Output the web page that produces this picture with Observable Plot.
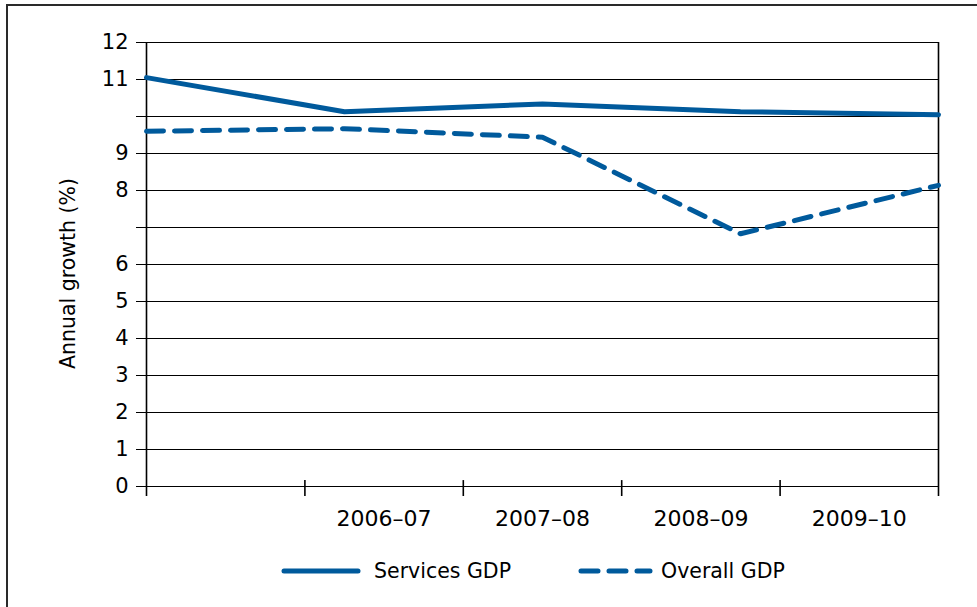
<!DOCTYPE html>
<html>
<head>
<meta charset="utf-8">
<script src="https://cdn.jsdelivr.net/npm/d3@7"></script>
<script src="https://cdn.jsdelivr.net/npm/@observablehq/plot@0.6"></script>
<style>
  html, body { margin: 0; padding: 0; background: #fff; overflow: hidden; }
  #wrap { position: relative; width: 977px; height: 607px; font-family: "DejaVu Sans", sans-serif; }
  #border { position: absolute; left: 6px; top: 4px; width: 1200px; height: 900px;
            border-top: 2px solid #2a2a2a; border-left: 2px solid #2a2a2a; pointer-events: none; }
  #chart { position: absolute; left: 0; top: 0; }
  #legend { position: absolute; left: 281px; top: 556px; height: 30px; display: flex; align-items: center;
            font-size: 20.5px; color: #000; }
  .item { display: flex; align-items: center; }
  .item svg { display: block; }
</style>
</head>
<body>
<div id="wrap">
  <div id="chart"></div>
  <div id="border"></div>
  <div id="legend"></div>
</div>
<script>
// ---- data ----
const periods = ["2005–06", "2006–07", "2007–08", "2008–09", "2009–10"];
const servicesGDP = [11.05, 10.13, 10.34, 10.13, 10.05];
const overallGDP = [9.6, 9.67, 9.44, 6.83, 8.14];
const xTickLabels = ["", "2006–07", "2007–08", "2008–09", "2009–10"];
const yTicks = [0, 1, 2, 3, 4, 5, 6, 7, 8, 9, 10, 11, 12];
const yHiddenLabels = [7, 10];
const seriesNames = ["Services GDP", "Overall GDP"];
const blue = "#005a9c";

// build tables
const services = periods.map((p, i) => ({i, period: p, v: servicesGDP[i]}));
const overall = periods.map((p, i) => ({i, period: p, v: overallGDP[i]}));
const nBands = xTickLabels.length;
const bandW = (periods.length - 1) / nBands;
const bandEdges = d3.range(nBands + 1).map(k => k * bandW);
const labelRows = xTickLabels.map((t, k) => ({t, c: (k + 0.5) * bandW}));

const plot = Plot.plot({
  width: 977,
  height: 545,
  marginLeft: 146,
  marginRight: 39,
  marginTop: 42,
  marginBottom: 59,
  style: {fontFamily: "'DejaVu Sans', sans-serif", fontSize: "21px", color: "#000", background: "transparent"},
  x: {domain: [0, periods.length - 1], axis: null},
  y: {domain: [0, 12]},
  marks: [
    Plot.ruleY(yTicks, {stroke: "#000", strokeWidth: 1.2, strokeOpacity: 1}),
    Plot.ruleX(bandEdges, {
      x: d => d,
      y1: -0.27,
      y2: (d, k) => (k === 0 || k === nBands) ? 12 : 0.16,
      stroke: "#000", strokeWidth: 1.6
    }),
    Plot.axisY({
      ticks: yTicks, tickSize: 10, tickPadding: 8,
      tickFormat: d => yHiddenLabels.includes(d) ? "" : String(d),
      label: null, fontSize: 21, stroke: "#000"
    }),
    Plot.text(["Annual growth (%)"], {
      frameAnchor: "left", textAnchor: "middle", rotate: -90, dx: -78, dy: 9,
      fontSize: 20.5, fill: "#000"
    }),
    Plot.text(labelRows, {x: "c", y: () => 0, text: "t", dy: 32, fontSize: 22, fill: "#000"}),
    Plot.line(overall, {x: "i", y: "v", stroke: blue, strokeWidth: 5,
      strokeDasharray: "17,11", strokeLinecap: "round", strokeLinejoin: "round"}),
    Plot.line(services, {x: "i", y: "v", stroke: blue, strokeWidth: 5, strokeLinejoin: "round"})
  ]
});
document.getElementById("chart").appendChild(plot);

// legend
const legend = document.getElementById("legend");
seriesNames.forEach((name, k) => {
  const item = document.createElement("div");
  item.className = "item";
  if (k > 0) item.style.marginLeft = "67px";
  const dash = k === 0 ? "" : ' stroke-dasharray="17,11"';
  const w = k === 0 ? 80 : 75;
  item.innerHTML = `<svg width="${w}" height="12"><line x1="3" y1="6" x2="${w - 3}" y2="6" stroke="${blue}" stroke-width="5" stroke-linecap="round"${dash}/></svg><span style="margin-left:${k === 0 ? 13 : 8}px">${name}</span>`;
  legend.appendChild(item);
});
</script>
</body>
</html>
